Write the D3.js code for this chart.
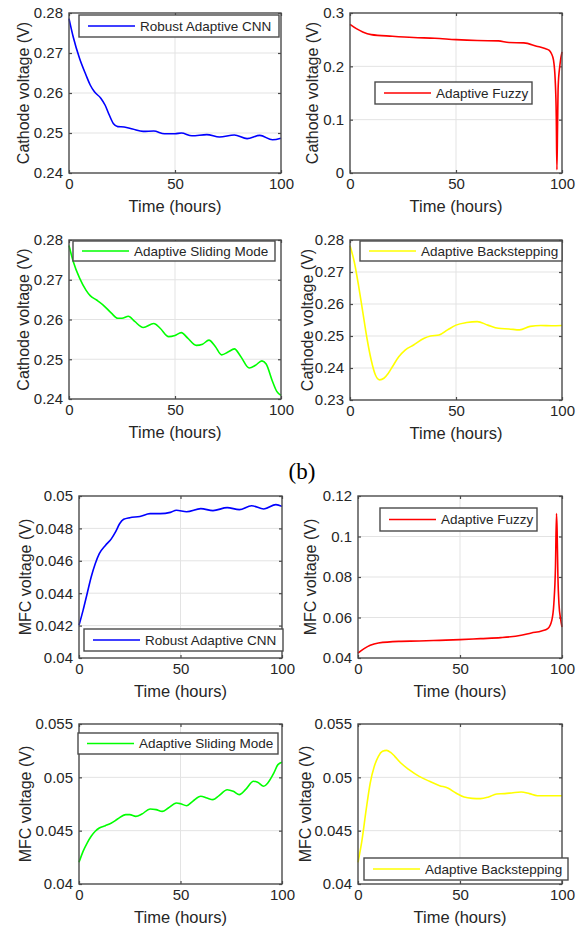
<!DOCTYPE html>
<html><head><meta charset="utf-8">
<script src="https://cdn.jsdelivr.net/npm/d3@7"></script>
<style>body{margin:0;background:#fff}svg{display:block}text{font-family:"Liberation Sans",Arial,sans-serif}</style>
</head><body>
<svg id="c" width="585" height="931"></svg>
<script>
// ---------- data ----------
const cnnCathodeT = [0,2,5,8,10,12,15,17,19,21,23,26,30,35,40,45,50,53,58,65,71,78,84,90,96,100];
const cnnCathodeV = [0.2786,0.274,0.2686,0.2645,0.262,0.2603,0.2587,0.257,0.2545,0.2523,0.2516,0.2515,0.251,0.2504,0.2505,0.2498,0.2498,0.25,0.2493,0.2496,0.249,0.2495,0.2486,0.2494,0.2483,0.2487];

const fuzzyCathodeT = [0,3,6,10,20,30,40,50,60,70,75,82,88,92,94,95,96,96.8,97.3,97.6,97.9,98.2,99,100];
const fuzzyCathodeV = [0.2788,0.2707,0.2645,0.2595,0.2564,0.254,0.2527,0.25,0.2483,0.2477,0.2446,0.244,0.2378,0.2334,0.23,0.224,0.2116,0.174,0.106,0.0062,0.087,0.162,0.202,0.227];

const smcCathodeT = [0,2,5,8,10,13,16,20,23,25,28,31,35,40,43,47,50,53,56,60,63,66,69,72,75,78,81,85,88,91,93,96,98,100];
const smcCathodeV = [0.2786,0.2746,0.2704,0.2674,0.266,0.2649,0.2637,0.2616,0.2603,0.2603,0.2608,0.2595,0.258,0.259,0.2578,0.2557,0.256,0.2567,0.2553,0.2535,0.2538,0.2548,0.2532,0.2511,0.2518,0.2526,0.2507,0.2478,0.2485,0.2496,0.2488,0.2444,0.2419,0.2409];

const bsCathodeT = [0,2,4,6,8,10,12,14,16,18,20,23,26,30,35,38,42,46,50,55,60,65,70,75,80,85,90,95,100];
const bsCathodeV = [0.2782,0.2732,0.2659,0.2576,0.2493,0.2425,0.2378,0.2363,0.2368,0.2383,0.2404,0.2435,0.2456,0.2472,0.2493,0.25,0.2503,0.2519,0.2534,0.2542,0.2545,0.2534,0.2524,0.2522,0.2519,0.253,0.2533,0.2532,0.2533];

const cnnMfcT = [0,2,4,6,8,10,13,16,18,20,22,25,30,35,40,45,48,53,60,66,73,79,85,91,97,100];
const cnnMfcV = [0.04202,0.04294,0.04397,0.0450,0.04582,0.04644,0.04695,0.04737,0.04778,0.04829,0.04856,0.04866,0.04874,0.04891,0.04891,0.04899,0.04912,0.04903,0.04922,0.0491,0.04928,0.04916,0.0494,0.0492,0.04947,0.04936];

const fuzzyMfcT = [0,3,6,10,20,30,40,50,60,70,80,85,90,93,95,96,96.8,97.3,97.6,98,98.5,99.3,100];
const fuzzyMfcV = [0.04247,0.0446,0.04626,0.0474,0.04823,0.0484,0.04872,0.04905,0.04955,0.05004,0.0512,0.05235,0.05333,0.05449,0.0586,0.0668,0.0849,0.1113,0.103,0.08,0.0668,0.0594,0.0553];

const smcMfcT = [0,2,4,6,8,10,13,16,19,23,25,28,31,35,38,41,44,48,50,53,56,60,63,66,69,73,76,79,82,86,88,91,93,96,98,100];
const smcMfcV = [0.04203,0.04306,0.04384,0.04447,0.04494,0.04525,0.04547,0.04572,0.04609,0.0465,0.0465,0.04634,0.04656,0.04703,0.04697,0.04681,0.04712,0.04759,0.04753,0.04734,0.04775,0.04822,0.04806,0.04791,0.04828,0.04884,0.04869,0.04838,0.04884,0.04963,0.04953,0.04916,0.04947,0.05041,0.05119,0.05141];

const bsMfcT = [0,2,4,6,8,10,12,14,16,18,21,25,30,35,40,44,48,52,56,60,64,68,72,76,80,84,88,92,96,100];
const bsMfcV = [0.04203,0.04416,0.04697,0.04947,0.05103,0.05197,0.05244,0.05253,0.05234,0.05197,0.05134,0.05072,0.05009,0.04963,0.04922,0.049,0.04853,0.04816,0.04803,0.048,0.04816,0.04844,0.04847,0.04856,0.04862,0.04847,0.04828,0.04828,0.04828,0.04828];

const xTicks = [0,50,100];
const cathodeTicksA = [0.24,0.25,0.26,0.27,0.28];
const cathodeTicksB = [0,0.1,0.2,0.3];
const cathodeTicksC = [0.23,0.24,0.25,0.26,0.27,0.28];
const mfcTicksA = [0.04,0.042,0.044,0.046,0.048,0.05];
const mfcTicksB = [0.04,0.06,0.08,0.1,0.12];
const mfcTicksC = [0.04,0.045,0.05,0.055];

const seriesNames = ["Robust Adaptive CNN","Adaptive Fuzzy","Adaptive Sliding Mode","Adaptive Backstepping"];
const xLabel = "Time (hours)";
const yLabels = ["Cathode voltage (V)","MFC voltage (V)"];
const subLabel = "(b)";

// ---------- layout ----------
const colors = ["#0000ff","#ff0000","#00ff00","#ffff00"];
const panels = [
  {t:cnnCathodeT,v:cnnCathodeV,ticks:cathodeTicksA,s:0,yl:0,box:[69,13,281,173],ylx:23,leg:[79,15,279,37]},
  {t:fuzzyCathodeT,v:fuzzyCathodeV,ticks:cathodeTicksB,s:1,yl:0,box:[350,13,562,173],ylx:312,leg:[375,82,532,104]},
  {t:smcCathodeT,v:smcCathodeV,ticks:cathodeTicksA,s:2,yl:0,box:[69,240,281,399],ylx:23,leg:[73,241,275,261]},
  {t:bsCathodeT,v:bsCathodeV,ticks:cathodeTicksC,s:3,yl:0,box:[350,240,562,400],ylx:307,leg:[360,241,562,261]},
  {t:cnnMfcT,v:cnnMfcV,ticks:mfcTicksA,s:0,yl:1,box:[79,496,282,658],ylx:25,leg:[84,629,283,651]},
  {t:fuzzyMfcT,v:fuzzyMfcV,ticks:mfcTicksB,s:1,yl:1,box:[358,496,562,658],ylx:310,leg:[380,508,537,531]},
  {t:smcMfcT,v:smcMfcV,ticks:mfcTicksC,s:2,yl:1,box:[79,724,282,884],ylx:25,leg:[78,733,278,754]},
  {t:bsMfcT,v:bsMfcV,ticks:mfcTicksC,s:3,yl:1,box:[358,724,562,884],ylx:305,leg:[364,858,568,880]}
];

const svg = d3.select("#c");
const axisCol = "#4a4a4a", txtCol = "#262626";

panels.forEach(p => {
  const [l,t,r,b] = p.box;
  const x = d3.scaleLinear().domain([0,100]).range([l,r]);
  const y = d3.scaleLinear().domain([p.ticks[0], p.ticks[p.ticks.length-1]]).range([b,t]);
  const g = svg.append("g");
  // grid
  g.selectAll(null).data(xTicks.slice(1,-1)).join("line")
    .attr("x1",d=>x(d)).attr("x2",d=>x(d)).attr("y1",t).attr("y2",b)
    .attr("stroke","#e3e3e3").attr("stroke-width",1);
  g.selectAll(null).data(p.ticks.slice(1,-1)).join("line")
    .attr("y1",d=>y(d)).attr("y2",d=>y(d)).attr("x1",l).attr("x2",r)
    .attr("stroke","#e3e3e3").attr("stroke-width",1);
  // axes with inward ticks
  const ax = [
    [d3.axisBottom(x).tickValues(xTicks).tickSize(3).tickFormat(d3.format("d")), `translate(0,${b})`],
    [d3.axisTop(x).tickValues(xTicks).tickSize(3).tickFormat(""), `translate(0,${t})`],
    [d3.axisLeft(y).tickValues(p.ticks).tickSize(3).tickFormat(d=>String(+d.toFixed(4))), `translate(${l},0)`],
    [d3.axisRight(y).tickValues(p.ticks).tickSize(3).tickFormat(""), `translate(${r},0)`]
  ];
  ax.forEach(([a,tr],i) => {
    const ag = g.append("g").attr("transform",tr).call(a);
    ag.select(".domain").remove();
    ag.selectAll(".tick line").attr("stroke",axisCol).attr("stroke-width",1.2);
    if (i===0) ag.selectAll(".tick line").attr("y2",-3);
    if (i===1) ag.selectAll(".tick line").attr("y2",3);
    if (i===2) ag.selectAll(".tick line").attr("x2",3);
    if (i===3) ag.selectAll(".tick line").attr("x2",-3);
    ag.selectAll(".tick text").attr("fill",txtCol).style("font-size","15px")
      .style("font-family",'"Liberation Sans",Arial,sans-serif');
    if (i===0) ag.selectAll(".tick text").attr("y",5).attr("dy","0.71em");
    if (i===2) ag.selectAll(".tick text").attr("x",-6);
  });
  // curve
  const pts = p.t.map((tt,i)=>[tt,p.v[i]]);
  g.append("path").datum(pts)
    .attr("d", d3.line().x(d=>x(d[0])).y(d=>y(d[1])).curve(d3.curveMonotoneX))
    .attr("fill","none").attr("stroke",colors[p.s]).attr("stroke-width",1.6);
  // box
  g.append("rect").attr("x",l).attr("y",t).attr("width",r-l).attr("height",b-t)
    .attr("fill","none").attr("stroke",axisCol).attr("stroke-width",1.4);
  // labels
  g.append("text").attr("x",(l+r)/2).attr("y",b+39).attr("text-anchor","middle")
    .attr("fill",txtCol).style("font-size","16.5px").text(xLabel);
  g.append("text").attr("transform",`translate(${p.ylx},${(t+b)/2}) rotate(-90)`)
    .attr("text-anchor","middle").attr("dy","0.35em")
    .attr("fill",txtCol).style("font-size","16px").text(yLabels[p.yl]);
  // legend
  const [ll,lt,lr,lb] = p.leg;
  g.append("rect").attr("x",ll).attr("y",lt).attr("width",lr-ll).attr("height",lb-lt)
    .attr("fill","#fff").attr("stroke",axisCol).attr("stroke-width",1.4);
  const my = (lt+lb)/2;
  g.append("line").attr("x1",ll+9).attr("x2",ll+56).attr("y1",my).attr("y2",my)
    .attr("stroke",colors[p.s]).attr("stroke-width",1.6);
  g.append("text").attr("x",ll+61).attr("y",my).attr("dy","0.35em")
    .attr("fill",txtCol).style("font-size","13.5px").text(seriesNames[p.s]);
});

svg.append("text").attr("x",302).attr("y",479).attr("text-anchor","middle")
  .style("font-family",'"Liberation Serif","Times New Roman",serif').style("font-size","23px")
  .attr("fill","#000").text(subLabel);
</script>
</body></html>
